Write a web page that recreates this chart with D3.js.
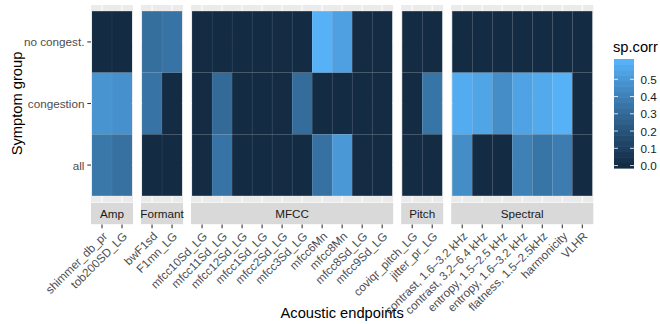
<!DOCTYPE html>
<html>
<head>
<meta charset="utf-8">
<script src="https://cdn.jsdelivr.net/npm/d3@7"></script>
<style>
  body { margin: 0; background: #fff; }
  text { font-family: "Liberation Sans", Arial, sans-serif; }
</style>
</head>
<body>
<div id="chart"></div>
<script>
// facets and endpoints (x), symptom groups (y)
const facets = ["Amp", "Formant", "MFCC", "Pitch", "Spectral"];
const endpoints = [
  "shimmer_db_pr", "tob200SD_LG",
  "bwF1sd", "F1mn_LG",
  "mfcc10Sd_LG", "mfcc11Sd_LG", "mfcc12Sd_LG", "mfcc1Sd_LG", "mfcc2Sd_LG",
  "mfcc3Sd_LG", "mfcc6Mn", "mfcc8Mn", "mfcc8Sd_LG", "mfcc9Sd_LG",
  "coviqr_pitch_LG", "jitter_pr_LG",
  "contrast, 1.6–3.2 kHz", "contrast, 3.2–6.4 kHz", "entropy, 1.5–2.5 kHz",
  "entropy, 1.6–3.2 kHz", "flatness, 1.5–2.5kHz", "harmonicity", "VLHR"
];
const endpointFacet = [
  "Amp", "Amp",
  "Formant", "Formant",
  "MFCC", "MFCC", "MFCC", "MFCC", "MFCC", "MFCC", "MFCC", "MFCC", "MFCC", "MFCC",
  "Pitch", "Pitch",
  "Spectral", "Spectral", "Spectral", "Spectral", "Spectral", "Spectral", "Spectral"
];
const symptomGroups = ["no congest.", "congestion", "all"]; // top to bottom

// spearman correlations, one array per symptom group (same order as endpoints)
const corrNoCongest = [0, 0,  0.32, 0.34,  0, 0, 0, 0, 0, 0, 0.60, 0.53, 0, 0,  0, 0,  0, 0, 0, 0, 0, 0, 0];
const corrCongestion = [0.48, 0.47,  0.34, 0,  0, 0.30, 0, 0, 0, 0.31, 0, 0, 0, 0,  0, 0.35,  0.58, 0.55, 0.45, 0.54, 0.57, 0.60, 0];
const corrAll = [0.36, 0.33,  0, 0,  0, 0.34, 0, 0, 0, 0, 0.33, 0.50, 0, 0,  0, 0,  0.45, 0, 0, 0.40, 0.35, 0.38, 0];

const legendBreaks = [0, 0.1, 0.2, 0.3, 0.4, 0.5];

const width = 660, height = 324;
const panelLeft = 91, panelRight = 593.3, panelTop = 5, panelBottom = 202;
const gap = 8;

const svg = d3.select("#chart").append("svg")
  .attr("width", width).attr("height", height);

const cells = [];
symptomGroups.forEach((g, gi) => {
  const vals = [corrNoCongest, corrCongestion, corrAll][gi];
  endpoints.forEach((e, i) => cells.push({ group: g, endpoint: e, facet: endpointFacet[i], value: vals[i] }));
});

const color = d3.scaleLinear()
  .domain(d3.extent(cells, d => d.value))
  .range(["#132B43", "#56B1F7"])
  .interpolate(d3.interpolateLab);

// x: one band scale per facet, widths proportional to number of endpoints
const counts = facets.map(f => endpointFacet.filter(d => d === f).length);
const unit = (panelRight - panelLeft - gap * (facets.length - 1)) / (d3.sum(counts) + 0.1 * facets.length);
const xScales = {};
let cursor = panelLeft;
facets.forEach((f, i) => {
  const w = (counts[i] + 0.1) * unit;
  xScales[f] = d3.scaleBand()
    .domain(endpoints.filter((e, j) => endpointFacet[j] === f))
    .range([cursor, cursor + w])
    .paddingInner(0).paddingOuter(0.05);
  cursor += w + gap;
});

const y = d3.scaleBand()
  .domain(symptomGroups)
  .range([panelTop, panelBottom])
  .paddingInner(0).paddingOuter(0.1);

// panels
facets.forEach(f => {
  const xs = xScales[f];
  const [x0, x1] = xs.range();
  const p = svg.append("g");
  p.append("rect")
    .attr("x", x0).attr("y", panelTop)
    .attr("width", x1 - x0).attr("height", panelBottom - panelTop)
    .attr("fill", "#EBEBEB");
  p.selectAll("line.vg").data(xs.domain()).join("line")
    .attr("x1", d => xs(d) + xs.bandwidth() / 2).attr("x2", d => xs(d) + xs.bandwidth() / 2)
    .attr("y1", panelTop).attr("y2", panelBottom)
    .attr("stroke", "#fff").attr("stroke-width", 1.07);
  p.selectAll("line.hg").data(symptomGroups).join("line")
    .attr("y1", d => y(d) + y.bandwidth() / 2).attr("y2", d => y(d) + y.bandwidth() / 2)
    .attr("x1", x0).attr("x2", x1)
    .attr("stroke", "#fff").attr("stroke-width", 1.07);

  p.selectAll("rect.tile").data(cells.filter(c => c.facet === f)).join("rect")
    .attr("class", "tile")
    .attr("x", d => xs(d.endpoint)).attr("y", d => y(d.group))
    .attr("width", xs.bandwidth()).attr("height", y.bandwidth())
    .attr("fill", d => color(d.value))
    .attr("stroke", "#EBEBEB").attr("stroke-opacity", 0.07).attr("stroke-width", 0.6);

  // strip
  p.append("rect")
    .attr("x", x0).attr("y", panelBottom + 0.7)
    .attr("width", x1 - x0).attr("height", 21.5)
    .attr("fill", "#D9D9D9");
  p.append("text")
    .attr("x", (x0 + x1) / 2).attr("y", panelBottom + 11.5)
    .attr("text-anchor", "middle").attr("dominant-baseline", "central")
    .attr("font-size", 11.7).attr("fill", "#1A1A1A")
    .text(f);

  // x ticks and labels
  const ticksY = panelBottom + 22.5;
  p.selectAll("line.xt").data(xs.domain()).join("line")
    .attr("x1", d => xs(d) + xs.bandwidth() / 2).attr("x2", d => xs(d) + xs.bandwidth() / 2)
    .attr("y1", ticksY).attr("y2", ticksY + 3.7)
    .attr("stroke", "#333333").attr("stroke-width", 1.07);
  p.selectAll("text.xl").data(xs.domain()).join("text")
    .attr("transform", d => `translate(${xs(d) + xs.bandwidth() / 2},${ticksY + 6.5}) rotate(-45)`)
    .attr("text-anchor", "end").attr("dy", "0.72em")
    .attr("font-size", 11.7).attr("fill", "#4D4D4D")
    .text(d => d);
});

// y axis
const yAxis = svg.append("g");
yAxis.selectAll("line").data(symptomGroups).join("line")
  .attr("x1", panelLeft - 3.7).attr("x2", panelLeft)
  .attr("y1", d => y(d) + y.bandwidth() / 2).attr("y2", d => y(d) + y.bandwidth() / 2)
  .attr("stroke", "#333333").attr("stroke-width", 1.07);
yAxis.selectAll("text").data(symptomGroups).join("text")
  .attr("x", panelLeft - 6.6).attr("y", d => y(d) + y.bandwidth() / 2)
  .attr("text-anchor", "end").attr("dominant-baseline", "central")
  .attr("font-size", 11.7).attr("fill", "#4D4D4D")
  .text(d => d);

// axis titles
svg.append("text")
  .attr("x", (panelLeft + panelRight) / 2).attr("y", 318)
  .attr("text-anchor", "middle")
  .attr("font-size", 14.7).attr("fill", "#000")
  .text("Acoustic endpoints");
svg.append("text")
  .attr("transform", `translate(22,${(panelTop + panelBottom) / 2}) rotate(-90)`)
  .attr("text-anchor", "middle")
  .attr("font-size", 14.7).attr("fill", "#000")
  .text("Symptom group");

// legend (colourbar, 20 bins like ggplot)
const barX = 614, barW = 20, barTop = 59.3, barH = 109, nbin = 20;
const binH = barH / nbin;
const [vmin, vmax] = color.domain();
const bins = d3.range(nbin).map(i => vmin + (vmax - vmin) * i / (nbin - 1));
const legendScale = d3.scaleLinear()
  .domain([vmin, vmax])
  .range([barTop + barH - binH / 2, barTop + binH / 2]);
const legend = svg.append("g");
legend.append("text")
  .attr("x", barX - 1).attr("y", 52)
  .attr("font-size", 14.7).attr("fill", "#000")
  .text("sp.corr");
legend.selectAll("rect").data(bins).join("rect")
  .attr("x", barX).attr("width", barW)
  .attr("y", (d, i) => barTop + barH - (i + 1) * binH - 0.3)
  .attr("height", binH + 0.6)
  .attr("fill", d => color(d));
legend.selectAll("line.tl").data(legendBreaks).join("line")
  .attr("x1", barX).attr("x2", barX + barW / 5)
  .attr("y1", d => legendScale(d)).attr("y2", d => legendScale(d))
  .attr("stroke", "#fff").attr("stroke-width", 0.8);
legend.selectAll("line.tr").data(legendBreaks).join("line")
  .attr("x1", barX + barW * 4 / 5).attr("x2", barX + barW)
  .attr("y1", d => legendScale(d)).attr("y2", d => legendScale(d))
  .attr("stroke", "#fff").attr("stroke-width", 0.8);
legend.selectAll("text.lab").data(legendBreaks).join("text")
  .attr("x", barX + barW + 6.5).attr("y", d => legendScale(d))
  .attr("dominant-baseline", "central")
  .attr("font-size", 11.7).attr("fill", "#1A1A1A")
  .text(d => d3.format(".1f")(d));
</script>
</body>
</html>
